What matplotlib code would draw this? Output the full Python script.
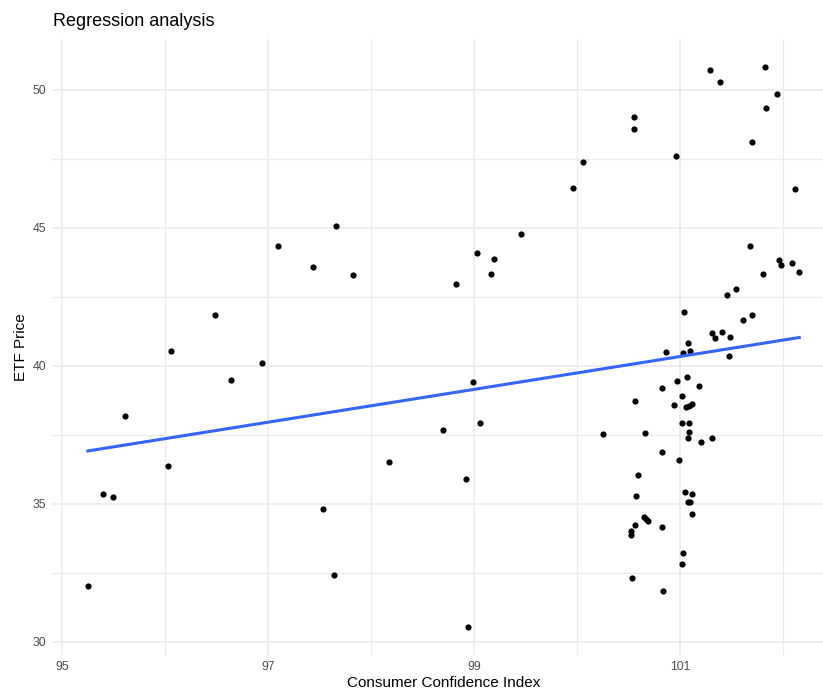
import numpy as np
import matplotlib
matplotlib.use('Agg')
import matplotlib.pyplot as plt
from matplotlib.ticker import MultipleLocator

plt.rcParams['font.family'] = ['Liberation Sans', 'DejaVu Sans']

# consumer confidence index vs ETF price
cci = [
    95.25, 95.40, 95.49, 95.61, 96.03, 96.06, 96.48, 96.64, 96.94, 97.10,
    97.44, 97.53, 97.64, 97.66, 97.82, 98.17, 98.70, 98.83, 98.92, 98.94,
    98.99, 99.03, 99.06, 99.17, 99.19, 99.46, 99.96, 100.06, 100.25,
    100.55, 100.55, 100.96, 101.29, 101.39, 101.83, 101.94, 101.84, 101.70,
    102.12, 101.68, 101.96, 101.98, 102.09, 102.16, 101.81, 101.55, 101.46,
    101.70, 101.61, 101.04, 101.31, 101.41, 101.34, 101.49, 101.08, 101.10,
    101.03, 100.87, 101.48, 101.07, 100.97, 100.83, 101.19, 100.56, 101.02,
    100.94, 101.06, 101.09, 101.12, 101.02, 101.09, 101.09, 101.08, 101.21,
    101.31, 100.66, 100.83, 100.99, 100.59, 101.05, 101.12, 100.57, 101.08,
    101.10, 101.12, 100.65, 100.67, 100.69, 100.83, 100.56, 100.53, 100.53,
    101.03, 101.02, 100.54, 100.84,
]
etf_price = [
    32.02, 35.35, 35.23, 38.18, 36.37, 40.54, 41.85, 39.48, 40.11, 44.34,
    43.58, 34.81, 32.42, 45.07, 43.28, 36.50, 37.68, 42.95, 35.89, 30.54,
    39.40, 44.08, 37.93, 43.31, 43.88, 44.78, 46.43, 47.38, 37.51,
    49.00, 48.58, 47.59, 50.71, 50.30, 50.82, 49.83, 49.34, 48.12,
    46.41, 44.33, 43.84, 43.64, 43.72, 43.38, 43.33, 42.77, 42.57,
    41.84, 41.64, 41.93, 41.20, 41.22, 41.01, 41.03, 40.81, 40.54,
    40.45, 40.50, 40.34, 39.58, 39.46, 39.20, 39.25, 38.71, 38.90,
    38.59, 38.49, 38.55, 38.61, 37.92, 37.92, 37.61, 37.37, 37.25,
    37.39, 37.56, 36.86, 36.57, 36.04, 35.43, 35.35, 35.29, 35.06,
    35.07, 34.63, 34.53, 34.46, 34.36, 34.17, 34.24, 34.02, 33.86,
    33.22, 32.80, 32.30, 31.84,
]

x = np.array(cci)
y = np.array(etf_price)

W, H = 823, 691
fig = plt.figure(figsize=(W / 100, H / 100), dpi=100)
# panel runs slightly past the right edge, as in the reference crop
ax = fig.add_axes([52.4 / W, 1 - 654.7 / H, (834.8 - 52.4) / W, (654.7 - 39.2) / H])

xr = x.max() - x.min()
yr = y.max() - y.min()
ax.set_xlim(x.min() - 0.05 * xr, x.max() + 0.05 * xr)
ax.set_ylim(y.min() - 0.05 * yr, y.max() + 0.05 * yr)

ax.xaxis.set_major_locator(MultipleLocator(2, offset=1))
ax.xaxis.set_minor_locator(MultipleLocator(2))
ax.yaxis.set_major_locator(MultipleLocator(5))
ax.yaxis.set_minor_locator(MultipleLocator(2.5))
ax.grid(which='major', color='#ebebeb', lw=1.2)
ax.grid(which='minor', color='#ebebeb', lw=0.9)
ax.set_axisbelow(True)
for s in ax.spines.values():
    s.set_visible(False)
ax.tick_params(which='both', length=0)
ax.tick_params(which='major', labelsize=8.8, labelcolor='#4d4d4d', pad=4.5)

ax.scatter(x, y, s=20, c='black', linewidths=0, zorder=3)

# linear fit, like geom_smooth(method='lm', se=FALSE)
k, b = np.polyfit(x, y, 1)
xs = np.array([x.min(), x.max()])
ax.plot(xs, k * xs + b, color='#3366ff', lw=2.2, zorder=4)

ax.set_xlabel('Consumer Confidence Index', fontsize=11, va='center')
ax.set_ylabel('ETF Price', fontsize=11, labelpad=3)
ax.xaxis.set_label_coords((443.6 - 52.4) / (834.8 - 52.4), -(683 - 654.7) / (654.7 - 39.2))
fig.text(53 / W, 1 - 22 / H, 'Regression analysis', fontsize=13, ha='left', va='center')

fig.savefig('out.png', dpi=100)
